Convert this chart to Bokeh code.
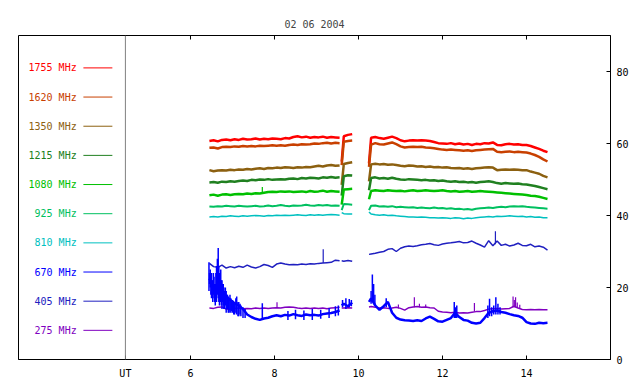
import math
from bokeh.plotting import figure
from bokeh.models import Range1d, FixedTicker, Span
from bokeh.embed import file_html
from bokeh.resources import INLINE
from bokeh.core.properties import value

TITLE = "02 06 2004"
FREQS = ["1755 MHz", "1620 MHz", "1350 MHz", "1215 MHz", "1080 MHz",
         "925 MHz", "810 MHz", "670 MHz", "405 MHz", "275 MHz"]
COLORS = ["#ff0000", "#c84000", "#8c6010", "#208020", "#00c000",
          "#00c060", "#00c0c0", "#0000ff", "#2020c0", "#8000c0"]
X_TICKS = [4.45, 6, 8, 10, 12, 14]
X_TICK_LABELS = {4.45: "UT"}
Y_TICKS = [0, 20, 40, 60, 80]

# sampling times (UT hours) of the three observing blocks
T_A = [round(6.45 + 0.1 * i, 2) for i in range(32)]
T_B = [9.60, 9.65, 9.75, 9.85]
T_C = [10.25] + [round(10.30 + 0.1 * i, 2) for i in range(43)]

S1755_A = [60.7, 60.9, 60.6, 61.0, 61.1, 60.9, 61.2, 61.0, 61.3, 61.1, 61.2, 61.4, 61.1, 61.3, 61.2, 61.4,
           61.3, 61.2, 61.5, 61.4, 61.8, 62.0, 61.7, 61.9, 61.6, 61.8, 61.7, 61.9, 61.6, 61.8, 61.7, 61.6]
S1755_B = [55.0, 62.0, 62.4, 62.6]
S1755_C = [54.5, 61.6, 61.8, 61.5, 61.3, 61.6, 61.9, 61.5, 60.9, 60.6, 60.8, 60.9, 60.8, 60.9, 60.8, 60.7,
           60.4, 60.1, 60.0, 59.9, 60.1, 59.8, 60.0, 59.7, 59.9, 59.6, 59.9, 59.8, 60.1, 60.0, 60.3, 59.6,
           59.5, 59.8, 59.9, 59.7, 59.8, 59.6, 59.6, 59.3, 58.9, 58.5, 58.0, 57.6]

S1620_A = [58.8, 58.9, 58.6, 59.0, 59.1, 59.0, 59.2, 59.1, 59.3, 59.2, 59.3, 59.2, 59.4, 59.3, 59.4, 59.5,
           59.4, 59.5, 59.4, 59.6, 59.7, 59.6, 59.8, 59.7, 59.8, 60.0, 59.9, 60.1, 60.2, 60.0, 60.2, 60.1]
S1620_B = [54.0, 60.5, 60.7, 60.8]
S1620_C = [53.5, 59.7, 60.1, 59.8, 59.7, 60.0, 60.3, 59.8, 59.2, 58.9, 59.0, 59.1, 59.0, 59.1, 58.9, 58.8,
           58.7, 58.5, 58.3, 58.2, 58.3, 58.2, 58.1, 58.0, 58.1, 57.9, 58.1, 58.2, 58.3, 58.4, 58.5, 57.7,
           57.6, 57.7, 57.8, 57.6, 57.7, 57.6, 57.5, 57.2, 56.8, 56.3, 55.6, 55.0]

S1350_A = [52.6, 52.3, 52.5, 52.6, 52.5, 52.7, 52.6, 52.8, 52.7, 52.9, 52.8, 53.0, 53.1, 52.9, 53.2, 53.1,
           53.3, 53.2, 53.4, 53.3, 53.2, 53.4, 53.3, 53.5, 53.4, 53.6, 53.8, 53.6, 53.9, 54.0, 53.8, 53.9]
S1350_B = [48.5, 54.3, 54.6, 54.8]
S1350_C = [49.5, 54.2, 54.4, 54.2, 54.3, 54.1, 54.2, 54.0, 53.8, 53.7, 53.9, 53.8, 53.6, 53.7, 53.5, 53.6,
           53.4, 53.5, 53.3, 53.4, 53.2, 53.1, 53.2, 53.0, 53.1, 52.9, 53.1, 53.2, 53.3, 53.4, 53.3, 52.6,
           52.7, 52.8, 52.7, 52.8, 52.7, 52.6, 52.6, 52.2, 51.9, 51.6, 51.0, 50.6]

S1215_A = [49.2, 49.3, 49.1, 49.4, 49.3, 49.5, 49.4, 49.6, 49.7, 49.6, 49.9, 49.8, 50.0, 49.9, 50.1, 49.9,
           50.0, 50.1, 50.0, 50.2, 50.3, 50.1, 50.4, 50.3, 50.5, 50.4, 50.3, 50.6, 50.5, 50.7, 50.5, 50.6]
S1215_B = [45.5, 50.9, 51.2, 51.1]
S1215_C = [47.0, 50.4, 50.6, 50.3, 50.4, 50.2, 50.5, 50.2, 50.0, 49.9, 50.1, 50.0, 49.9, 49.8, 49.9, 49.7,
           49.8, 49.6, 49.7, 49.5, 49.4, 49.5, 49.3, 49.4, 49.2, 49.3, 49.1, 49.3, 49.4, 49.5, 49.3, 49.0,
           48.8, 49.0, 48.9, 48.8, 48.9, 48.7, 48.6, 48.4, 48.2, 47.9, 47.6, 47.3]

S1080_A = [45.6, 45.8, 45.5, 45.8, 45.9, 45.7, 45.9, 46.0, 45.9, 46.1, 46.0, 46.2, 46.1, 46.3, 46.5, 46.6,
           46.5, 46.7, 46.6, 46.7, 46.5, 46.6, 46.7, 46.5, 46.8, 46.6, 46.7, 46.9, 46.6, 46.8, 46.7, 46.6]
S1080_B = [43.0, 47.2, 47.3, 47.4]
S1080_C = [44.5, 46.8, 47.0, 46.9, 46.8, 47.0, 46.9, 46.8, 46.9, 46.7, 46.9, 47.0, 46.8, 46.9, 47.0, 46.9,
           46.8, 46.9, 47.0, 46.8, 46.7, 46.8, 46.6, 46.7, 46.8, 46.6, 46.7, 46.8, 46.7, 46.6, 46.5, 46.4,
           46.3, 46.2, 46.1, 46.0, 45.9, 45.8, 45.7, 45.5, 45.4, 45.2, 44.9, 44.6]

S925_A = [42.5, 42.4, 42.6, 42.5, 42.7, 42.6, 42.5, 42.7, 42.6, 42.5, 42.6, 42.7, 42.5, 42.6, 42.8, 42.6,
          42.7, 42.9, 42.7, 42.6, 42.8, 42.7, 42.8, 43.0, 42.8, 42.7, 42.9, 42.8, 42.9, 42.7, 42.8, 42.7]
S925_B = [41.5, 43.2, 43.1, 43.0]
S925_C = [41.5, 42.7, 42.8, 42.5, 42.6, 42.4, 42.6, 42.3, 42.4, 42.3, 42.2, 42.3, 42.1, 42.2, 42.1, 42.0,
          42.2, 42.0, 42.1, 41.9, 42.0, 41.8, 41.9, 41.7, 41.8, 41.6, 41.9, 42.0, 42.1, 42.2, 42.1, 42.3,
          42.4, 42.3, 42.5, 42.6, 42.5, 42.6, 42.4, 42.3, 42.2, 42.1, 42.0, 41.9]

S810_A = [39.6, 39.7, 39.6, 39.8, 39.7, 39.9, 39.8, 39.7, 39.9, 39.8, 39.9, 40.0, 39.9, 39.8, 40.0, 39.9,
          40.1, 40.0, 40.1, 40.0, 40.1, 40.2, 40.1, 40.0, 40.2, 40.1, 40.2, 40.1, 40.2, 40.3, 40.2, 40.1]
S810_B = [40.8, 40.5, 40.4, 40.4]
S810_C = [41.0, 40.4, 40.2, 40.1, 40.2, 40.0, 40.1, 39.9, 39.8, 39.7, 39.6, 39.6, 39.5, 39.6, 39.5, 39.4,
          39.4, 39.3, 39.4, 39.3, 39.2, 39.4, 39.3, 39.1, 39.3, 39.2, 39.4, 39.5, 39.6, 39.7, 39.6, 39.8,
          39.7, 39.8, 39.9, 39.8, 39.7, 39.8, 39.6, 39.7, 39.5, 39.6, 39.4, 39.4]

S670_A = [22.5, 20.0, 21.0, 19.0, 17.5, 16.5, 15.6, 15.0, 14.0, 12.5, 11.8, 11.3, 11.0, 11.4, 11.6, 12.0,
          12.3, 12.0, 12.4, 12.2, 12.6, 12.3, 12.1, 12.5, 12.3, 12.4, 12.2, 12.6, 12.8, 12.9, 13.2, 13.6]
S670_B = [15.0, 15.5, 14.8, 15.8]
S670_C = [16.0, 17.0, 15.0, 13.8, 14.8, 16.0, 13.0, 11.6, 11.1, 10.9, 10.8, 10.7, 10.9, 10.7, 11.4, 11.9,
          11.3, 10.6, 10.5, 11.0, 11.5, 13.0, 11.8, 11.0, 10.8, 10.2, 10.0, 10.2, 11.5, 13.0, 13.4, 13.6,
          13.2, 13.0, 12.6, 12.3, 12.1, 11.6, 10.4, 10.0, 9.9, 10.2, 10.1, 10.2]

S405_A = [26.7, 25.8, 25.6, 26.2, 25.4, 25.8, 25.5, 25.9, 25.6, 26.2, 25.7, 25.4, 25.8, 26.4, 26.1, 25.6,
          26.5, 26.8, 26.5, 26.3, 26.4, 26.3, 26.5, 26.4, 26.6, 26.5, 26.7, 26.8, 26.9, 27.0, 27.6, 27.4]
S405_B = [27.4, 27.3, 27.5, 27.3]
S405_C = [29.2, 29.3, 29.5, 29.8, 30.0, 30.6, 30.8, 30.0, 30.9, 31.3, 31.5, 31.4, 31.6, 31.9, 32.0, 32.2,
          31.9, 31.7, 32.1, 32.3, 32.4, 32.6, 32.8, 32.4, 32.5, 32.9, 32.3, 31.8, 31.2, 33.0, 31.6, 32.9,
          31.7, 32.0, 31.5, 31.8, 32.3, 31.7, 31.6, 32.0, 31.3, 31.5, 31.2, 30.4]

S275_A = [14.3, 14.2, 14.5, 14.6, 14.0, 13.9, 14.2, 14.3, 14.1, 14.2, 14.1, 14.3, 14.2, 14.3, 14.2, 14.3,
          14.4, 14.3, 14.5, 14.6, 14.5, 14.3, 14.2, 14.3, 14.2, 14.3, 14.2, 14.3, 14.1, 14.3, 14.4, 14.5]
S275_B = [14.3, 14.3, 14.4, 14.3]
S275_C = [14.6, 14.7, 14.5, 14.3, 14.4, 14.2, 14.3, 14.5, 14.2, 13.7, 14.4, 14.6, 14.7, 14.5, 14.6, 14.4,
          14.3, 13.4, 13.2, 13.1, 13.0, 13.1, 12.9, 13.0, 12.9, 13.1, 13.3, 13.3, 13.6, 14.0, 14.1, 14.2,
          14.0, 14.1, 14.2, 14.8, 14.3, 13.9, 13.8, 13.9, 13.8, 13.9, 13.8, 13.8]

# short bursts / noise excursions: time, low, high
SPK670_T = [6.44, 6.455, 6.47, 6.485, 6.50, 6.515, 6.53, 6.545, 6.56, 6.575, 6.59, 6.605, 6.62, 6.64,
            6.66, 6.675, 6.69, 6.705, 6.72, 6.735, 6.75, 6.765, 6.78, 6.795, 6.81, 6.83, 6.85, 6.87,
            6.88, 6.90, 6.92, 6.94, 6.96, 6.98, 7.00, 7.03, 7.05, 7.08, 7.10, 7.13, 7.15, 7.18, 7.20,
            7.25, 7.30, 7.71, 8.32, 8.50, 8.70, 8.90, 9.10, 9.30, 9.45, 9.52, 9.62, 9.70, 9.78, 9.83,
            10.30, 10.33, 10.36, 10.39, 10.66, 12.28, 12.31, 12.34, 13.08, 13.12, 13.17, 13.22, 13.27,
            13.32, 13.37]
SPK670_LO = [19, 21, 20, 18, 17, 19, 16, 18, 17, 16, 15, 17, 16, 18,
             17, 16, 15, 17, 16, 15, 14, 16, 15, 14, 14, 15, 13, 14,
             14, 13, 13, 14, 13, 13.5, 13, 12.5, 12.5, 13, 12.5, 12, 12, 12.5, 12,
             11.5, 11.5, 11.3, 11.0, 11.2, 11.0, 11.0, 11.3, 11.5, 12.0, 12.2, 14.5, 14.0, 14.5, 14.8,
             15.5, 16, 16, 15, 14.5, 11.5, 11.5, 11.5, 11.5, 12, 12, 12.5, 12.5,
             12.5, 12.5]
SPK670_HI = [27, 24, 25, 23, 24, 22, 22, 24, 23, 21, 21, 24, 26, 28,
             31, 26, 24, 23, 25, 22, 22, 21, 21, 20, 19, 20, 19, 18,
             18, 17.5, 17, 18, 17, 16.5, 16.5, 16, 16, 17, 17.5, 16, 16, 15.5, 15,
             14.5, 14, 15.6, 13.5, 13.8, 13.6, 14.0, 13.8, 14.3, 14.8, 15.0, 16.5, 17.0, 16.8, 16.5,
             19, 23.6, 21, 18, 17, 16, 14.5, 15, 15, 16.9, 14.5, 15, 17.3,
             15.5, 14.5]
SPK405_T = [9.16, 13.26]
SPK405_LO = [26.8, 32.0]
SPK405_HI = [30.6, 35.6]
SPK275_T = [8.06, 10.95, 11.33, 11.45, 11.60, 12.76, 13.68, 13.71, 13.74, 13.78, 13.84]
SPK275_LO = [14.3, 14.2, 14.5, 14.5, 14.5, 13.3, 14.5, 14.5, 14.5, 14.5, 14.3]
SPK275_HI = [15.9, 15.3, 17.3, 15.5, 15.3, 15.7, 17.5, 16.5, 17.3, 15.8, 15.2]
SPK1080_T = [7.71]
SPK1080_LO = [46.2]
SPK1080_HI = [47.9]

SERIES = [
    (S1755_A, S1755_B, S1755_C),
    (S1620_A, S1620_B, S1620_C),
    (S1350_A, S1350_B, S1350_C),
    (S1215_A, S1215_B, S1215_C),
    (S1080_A, S1080_B, S1080_C),
    (S925_A, S925_B, S925_C),
    (S810_A, S810_B, S810_C),
    (S670_A, S670_B, S670_C),
    (S405_A, S405_B, S405_C),
    (S275_A, S275_B, S275_C),
]
WIDTHS = [2.5, 2.5, 2.5, 2.5, 2.5, 2, 1.5, 2.5, 1.5, 1.5]

FONT = "DejaVu Sans Mono"
NAN = float("nan")
X0, X1, Y0, Y1 = 1.905, 16.0, 0, 90

p = figure(width=640, height=384, x_range=Range1d(X0, X1), y_range=Range1d(Y0, Y1),
           output_backend="svg", toolbar_location=None, y_axis_location="right",
           min_border_left=18, min_border_right=30, min_border_top=35, min_border_bottom=25)
p.grid.visible = False
p.outline_line_color = "black"
p.outline_line_alpha = 1.0

p.title.text = TITLE
p.title.align = "center"
p.title.text_font = FONT
p.title.text_font_size = "10px"
p.title.text_font_style = "normal"
p.title.vertical_align = "middle"

xa = p.xaxis[0]
xa.ticker = FixedTicker(ticks=X_TICKS)
xa.major_label_overrides = X_TICK_LABELS
ya = p.yaxis[0]
ya.ticker = FixedTicker(ticks=Y_TICKS)
for ax in (xa, ya):
    ax.major_tick_in = 4
    ax.major_tick_out = 0
    ax.minor_tick_line_color = None
    ax.major_label_text_font = FONT
    ax.major_label_text_font_size = "10px"
    ax.major_label_text_color = "black"
    ax.axis_line_color = "black"
xa.major_label_standoff = 8
ya.major_label_standoff = 6

# inward tick marks on the top edge (same ticks as the bottom, without labels)
top_t = X_TICKS[1:]
tick_len = 4 * (Y1 - Y0) / 324.0
p.segment(x0=top_t, y0=[Y1] * len(top_t), x1=top_t, y1=[Y1 - tick_len] * len(top_t),
          line_color="black", line_width=1)

p.add_layout(Span(location=X_TICKS[0], dimension="height", line_color="#808080", line_width=1))

# legend in left panel
n = len(FREQS)
leg_y = [81.0 - 8.1 * i for i in range(n)]
p.text(x=[3.29] * n, y=leg_y, text=FREQS, text_color=COLORS, text_align="right",
       text_baseline="middle", text_font=value(FONT), text_font_size="10px")
p.segment(x0=[3.45] * n, y0=leg_y, x1=[4.14] * n, y1=leg_y, line_color=COLORS, line_width=1)

times = T_A + [NAN] + T_B + [NAN] + T_C
order = [0, 1, 2, 3, 4, 5, 6, 8, 9, 7]
for i in order:
    a, b, c = SERIES[i]
    vals = a + [NAN] + b + [NAN] + c
    p.line(times, vals, line_color=COLORS[i], line_width=WIDTHS[i])
    if i == 9:
        p.segment(x0=SPK275_T, y0=SPK275_LO, x1=SPK275_T, y1=SPK275_HI, line_color=COLORS[9], line_width=1.2)
    if i == 8:
        p.segment(x0=SPK405_T, y0=SPK405_LO, x1=SPK405_T, y1=SPK405_HI, line_color=COLORS[8], line_width=1.2)
    if i == 4:
        p.segment(x0=SPK1080_T, y0=SPK1080_LO, x1=SPK1080_T, y1=SPK1080_HI, line_color=COLORS[4], line_width=1.2)
    if i == 7:
        p.segment(x0=SPK670_T, y0=SPK670_LO, x1=SPK670_T, y1=SPK670_HI, line_color=COLORS[7], line_width=1.5)

open("out.html", "w").write(file_html(p, INLINE))
